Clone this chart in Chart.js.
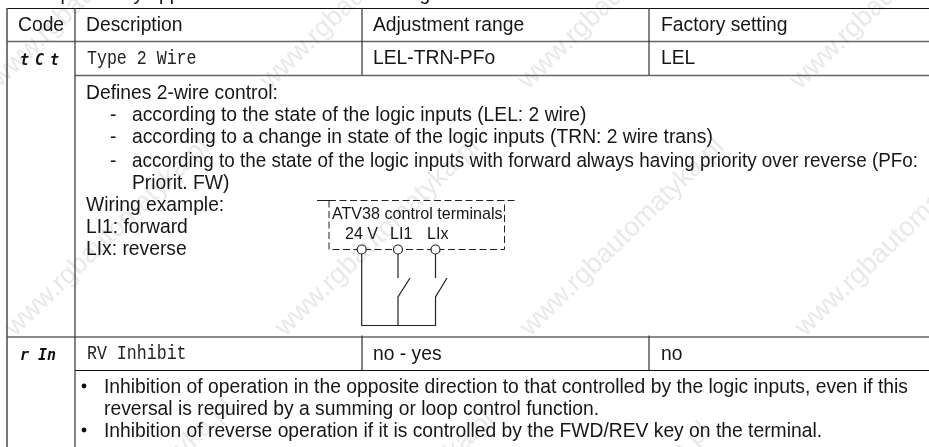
<!DOCTYPE html>
<html><head><meta charset="utf-8">
<script src="https://cdn.jsdelivr.net/npm/chart.js@4"></script>
<style>html,body{margin:0;padding:0;background:#fff}#w{width:929px;height:447px;position:relative}</style>
</head><body><div id="w"><canvas id="c" width="929" height="447"></canvas></div>
<script>
const sans='"Liberation Sans", Arial, sans-serif';
const mono='"Liberation Mono", monospace';
const codeFont='"DejaVu Sans Mono", monospace';
const headerLabels=[["Code",18,31],["Description",86,31],["Adjustment range",373,31],["Factory setting",661,31]];
const rowOneCells=[["LEL-TRN-PFo",373,64],["LEL",661,64]];
const rowTwoCells=[["no - yes",373,360],["no",661,360]];
const lcdLabels=[["Type 2 Wire",87,64],["RV Inhibit",87,359]];
const codeLabels=[["tCt",20,65,6],["r In",20,360,0]];
const bodyLines=[
["Defines 2-wire control:",86,99],
["-",110,121],["according to the state of the logic inputs (LEL: 2 wire)",132,121],
["-",110,143],["according to a change in state of the logic inputs (TRN: 2 wire trans)",132,143],
["-",110,167],["according to the state of the logic inputs with forward always having priority over reverse (PFo:",132,167,786],
["Priorit. FW)",132,189],
["Wiring example:",86,211],["LI1: forward",86,233],["LIx: reverse",86,255],
["Inhibition of operation in the opposite direction to that controlled by the logic inputs, even if this",104,393],
["reversal is required by a summing or loop control function.",104,415],
["Inhibition of reverse operation if it is controlled by the FWD/REV key on the terminal.",104,437]];
const topLine=[["This option only appears if 2-wire control is configured",8,0]];
const diagramLabels=[["ATV38 control terminals",332,219],["24 V",345,239],["LI1",390,239],["LIx",427,239]];
const bulletPoints=[[84,386],[84,430]];
const ruleXDark=[[75,8,447],[362,8,75],[649,8,75],[362,335.5,370],[649,335.5,370]];
const ruleXGrey=[[7,8,447]];
const ruleYDark=[[7,929,8.5],[75,929,370.5]];
const ruleYGrey=[[7,929,41.5],[75,929,75.5],[7,929,337]];
const dashPaths=[[[329,200.5],[516,200.5]],[[329,200.5],[329,249.5],[504.5,249.5],[504.5,200.5]]];
const solidStub=[[317,200.5],[333,200.5]];
const wirePaths=[[[361.7,254],[361.7,325.5],[435.5,325.5],[435.5,297],[447,278]],[[398,254],[398,278]],[[398,325.5],[398,297],[410,278]],[[435.5,254],[435.5,278]]];
const terminals=[[361.7,249.5],[398,249.5],[435.5,249.5]];
const watermarkStarts=[[0,88],[270,90],[528,90],[800,90],[15,337],[285,337],[530,337],[805,337],[39,597],[300,610],[516,621],[790,621]];
const watermarkText="www.rgbautomatyka.pl";

const lineDs=(pts,color,w,dash)=>({type:'line',data:pts.map(p=>({x:p[0],y:p[1]})),borderColor:color,borderWidth:w,borderDash:dash||[],pointRadius:0,fill:false,tension:0,showLine:true,order:2});
const datasets=[];
ruleXDark.forEach(r=>datasets.push(lineDs([[r[0],r[1]],[r[0],r[2]]],'#333',1.2)));
ruleXGrey.forEach(r=>datasets.push(lineDs([[r[0],r[1]],[r[0],r[2]]],'#555',1.6)));
ruleYDark.forEach(r=>datasets.push(lineDs([[r[0],r[2]],[r[1],r[2]]],'#111',1.1)));
ruleYGrey.forEach(r=>datasets.push(lineDs([[r[0],r[2]],[r[1],r[2]]],'#666',1.6)));
dashPaths.forEach(p=>datasets.push(lineDs(p,'#222',1,[7,3.5])));
datasets.push(lineDs(solidStub,'#222',1));
wirePaths.forEach(p=>datasets.push(lineDs(p,'#222',1.2)));
datasets.push({type:'scatter',data:terminals.map(p=>({x:p[0],y:p[1]})),pointRadius:4.5,pointBackgroundColor:'#fff',pointBorderColor:'#222',pointBorderWidth:1.2,showLine:false,order:1});
datasets.push({type:'scatter',data:bulletPoints.map(p=>({x:p[0],y:p[1]})),pointRadius:2.4,pointBackgroundColor:'#111',pointBorderColor:'#111',pointBorderWidth:0,showLine:false,order:1});

const textPlugin={id:'texts',
 beforeDatasetsDraw(chart){
  const {ctx,scales:{x,y}}=chart;
  ctx.save();ctx.font='27px '+sans;ctx.fillStyle='#ebe8e8';ctx.textAlign='left';ctx.textBaseline='alphabetic';
  watermarkStarts.forEach(c=>{ctx.save();ctx.translate(x.getPixelForValue(c[0]),y.getPixelForValue(c[1]));ctx.rotate(-44*Math.PI/180);ctx.fillText(watermarkText,0,0);ctx.restore();});
  ctx.restore();
 },
 afterDatasetsDraw(chart){
  const {ctx,scales:{x,y}}=chart;
  const put=(list,font,color)=>{ctx.font=font;ctx.fillStyle=color||'#161616';ctx.textAlign='left';ctx.textBaseline='alphabetic';list.forEach(t=>{if(t[3])ctx.fillText(t[0],x.getPixelForValue(t[1]),y.getPixelForValue(t[2]),t[3]);else ctx.fillText(t[0],x.getPixelForValue(t[1]),y.getPixelForValue(t[2]));});};
  ctx.save();
  put(topLine,'19.3px '+sans);
  put(headerLabels,'19.3px '+sans);
  put(rowOneCells,'19.3px '+sans);
  put(rowTwoCells,'19.3px '+sans);
  put(bodyLines,'19.3px '+sans);
  put(diagramLabels,'16.1px '+sans);
  ctx.font='16.6px '+mono;ctx.fillStyle='#222';
  lcdLabels.forEach(t=>{ctx.save();ctx.translate(x.getPixelForValue(t[1]),y.getPixelForValue(t[2]));ctx.scale(1,1.25);ctx.fillText(t[0],0,0);ctx.restore();});
  ctx.font='italic bold 15px '+codeFont;ctx.fillStyle='#111';
  codeLabels.forEach(t=>{ctx.letterSpacing=t[3]+'px';ctx.fillText(t[0],x.getPixelForValue(t[1]),y.getPixelForValue(t[2]));});
  ctx.letterSpacing='0px';
  ctx.restore();
 }};

new Chart(document.getElementById('c'),{
 data:{datasets},
 options:{responsive:false,animation:false,events:[],
  layout:{padding:0,autoPadding:false},
  plugins:{legend:{display:false},tooltip:{enabled:false}},
  scales:{x:{type:'linear',min:0,max:929,display:false},y:{type:'linear',min:0,max:447,reverse:true,display:false}}},
 plugins:[textPlugin]});
</script></body></html>
